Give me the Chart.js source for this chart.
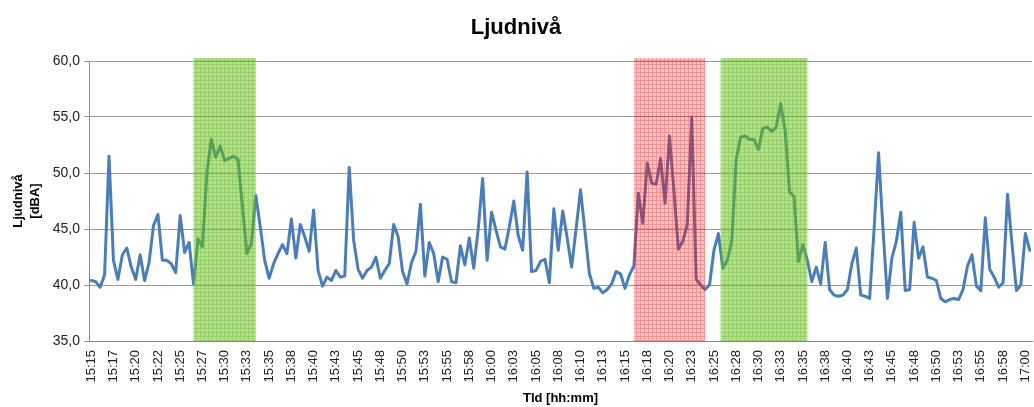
<!DOCTYPE html>
<html>
<head>
<meta charset="utf-8">
<script src="https://cdn.jsdelivr.net/npm/chart.js@4/dist/chart.umd.min.js"></script>
<style>
  html, body { margin: 0; padding: 0; background: #fff; }
  #wrap { width: 1034px; height: 407px; }
</style>
</head>
<body>
<div id="wrap"><canvas id="chart" width="1034" height="407"></canvas></div>
<script>
// one reading every 30 s, 15:15:00 - 17:00:30
const startTime = "15:15";
const stepSeconds = 30;

const tickLabels = [
  "15:15","15:17","15:20","15:22","15:25","15:27","15:30","15:33","15:35","15:38",
  "15:40","15:43","15:45","15:48","15:50","15:53","15:55","15:58","16:00","16:03",
  "16:05","16:08","16:10","16:13","16:15","16:18","16:20","16:23","16:25","16:28",
  "16:30","16:33","16:35","16:38","16:40","16:43","16:45","16:48","16:50","16:53",
  "16:55","16:58","17:00"
];

const levels = [
  40.4,40.3,39.8,40.9,51.5,42.2,40.5,42.7,43.3,41.6,
  40.5,42.7,40.4,42.0,45.3,46.3,42.2,42.2,41.9,41.1,
  46.2,42.9,43.8,40.1,44.1,43.4,50.0,53.0,51.4,52.4,
  51.1,51.3,51.5,51.2,47.0,42.8,43.7,48.0,45.2,42.2,
  40.6,41.9,42.8,43.6,42.8,45.9,42.4,45.4,44.3,43.0,
  46.7,41.3,39.9,40.7,40.4,41.3,40.7,40.8,50.5,44.0,
  41.4,40.6,41.3,41.6,42.5,40.6,41.3,41.9,45.4,44.3,
  41.2,40.1,42.0,43.0,47.2,40.8,43.8,42.8,40.3,42.5,
  42.3,40.3,40.2,43.5,41.8,44.2,41.5,45.0,49.5,42.2,
  46.5,44.9,43.4,43.2,45.2,47.5,44.4,43.1,50.1,41.2,
  41.3,42.1,42.3,40.2,46.8,43.1,46.6,44.2,41.6,45.0,
  48.5,44.8,41.0,39.7,39.8,39.3,39.6,40.1,41.2,41.0,
  39.7,40.9,41.7,48.2,45.5,50.9,49.1,49.0,51.3,47.3,
  53.3,48.4,43.2,43.9,45.4,55.0,40.5,40.0,39.6,40.0,
  43.1,44.6,41.5,42.2,43.9,51.2,53.2,53.3,53.0,53.0,
  52.1,54.0,54.1,53.7,54.1,56.2,53.8,48.3,47.9,42.1,
  43.6,42.2,40.3,41.6,40.1,43.8,39.6,39.1,39.0,39.1,
  39.6,41.9,43.3,39.1,39.0,38.8,45.0,51.8,45.0,38.8,
  42.4,43.9,46.5,39.5,39.6,45.6,42.4,43.4,40.7,40.6,
  40.4,38.8,38.5,38.7,38.8,38.7,39.6,41.7,42.7,39.9,
  39.5,46.0,41.4,40.7,39.8,40.2,48.1,43.7,39.5,40.0,
  44.6,43.1
];

// marked periods, as positions on the category axis
const bandStart = [23, 122, 141.5];
const bandEnd = [37, 138, 161];
const bandKind = ["green", "red", "green"];

const categories = [];
const t0 = parseInt(startTime.slice(0, 2)) * 3600 + parseInt(startTime.slice(3)) * 60;
for (let i = 0; i < levels.length; i++) {
  const s = t0 + i * stepSeconds;
  const hh = String(Math.floor(s / 3600)).padStart(2, "0");
  const mm = String(Math.floor(s / 60) % 60).padStart(2, "0");
  const ss = String(s % 60).padStart(2, "0");
  categories.push(hh + ":" + mm + ":" + ss);
}

function makePattern(base, line) {
  const c = document.createElement("canvas");
  c.width = 4; c.height = 4;
  const g = c.getContext("2d");
  g.fillStyle = base;
  g.fillRect(0, 0, 4, 4);
  g.fillStyle = line;
  g.fillRect(0, 0, 4, 1);
  g.fillRect(0, 1, 1, 3);
  return g.createPattern(c, "repeat");
}

const bandPlugin = {
  id: "bands",
  afterDatasetsDraw(chart) {
    const ctx = chart.ctx;
    const xs = chart.scales.x, ys = chart.scales.y;
    const fills = {
      green: makePattern("rgba(105,193,21,0.5)", "rgba(70,160,20,0.25)"),
      red: makePattern("rgba(255,0,0,0.22)", "rgba(230,20,20,0.3)")
    };
    const top = ys.getPixelForValue(ys.max) - 3;
    const bottom = ys.getPixelForValue(ys.min);
    ctx.save();
    bandStart.forEach(function(s, k) {
      const x1 = xs.getPixelForValue(s);
      const x2 = xs.getPixelForValue(bandEnd[k]);
      ctx.fillStyle = fills[bandKind[k]];
      ctx.fillRect(x1, top, x2 - x1, bottom - top);
    });
    ctx.restore();
  }
};

const font = "'Liberation Sans', Arial, sans-serif";

new Chart(document.getElementById("chart"), {
  type: "line",
  data: {
    labels: categories,
    datasets: [{
      label: "Ljudnivå",
      data: levels,
      borderColor: "#4a7ebb",
      borderWidth: 3,
      pointRadius: 0,
      tension: 0,
      borderJoinStyle: "round",
      borderCapStyle: "round"
    }]
  },
  options: {
    responsive: false,
    devicePixelRatio: 1,
    animation: false,
    layout: { padding: { left: 0, right: 2, top: 0, bottom: 0 } },
    plugins: {
      legend: { display: false },
      tooltip: { enabled: false },
      title: {
        display: true,
        text: "Ljudnivå",
        color: "#000",
        font: { family: font, size: 22, weight: "bold", lineHeight: 1.2 },
        padding: { top: 15, bottom: 19.6 }
      }
    },
    scales: {
      x: {
        offset: true,
        grid: { display: false, drawTicks: false },
        border: { display: true, color: "#868686", width: 1 },
        ticks: {
          autoSkip: false,
          minRotation: 90,
          maxRotation: 90,
          padding: 9,
          color: "#222",
          font: { family: font, size: 13 },
          callback: function(v, i) { return i % 5 === 0 ? tickLabels[i / 5] : ""; }
        },
        title: {
          display: true,
          text: "TId [hh:mm]",
          color: "#000",
          font: { family: font, size: 13, weight: "bold", lineHeight: 1.2 },
          padding: { top: 0, bottom: 1.2 }
        },
        afterFit: function(scale) {
          scale.height = 66;
          scale.paddingLeft = 0;
          scale.paddingRight = 0;
        }
      },
      y: {
        min: 35,
        max: 60,
        grid: { color: "#9a9a9a", lineWidth: 1, drawTicks: true, tickLength: 5 },
        border: { display: true, color: "#868686", width: 1 },
        ticks: {
          stepSize: 5,
          padding: 4,
          color: "#222",
          font: { family: font, size: 14 },
          callback: function(v) { return v.toFixed(1).replace(".", ","); }
        },
        title: {
          display: true,
          text: ["Ljudnivå", "[dBA]"],
          color: "#000",
          font: { family: font, size: 13, weight: "bold", lineHeight: 1.33 },
          padding: { top: 9.6, bottom: 0 }
        },
        afterFit: function(scale) { scale.width = 89; }
      }
    }
  },
  plugins: [bandPlugin]
});
</script>
</body>
</html>
